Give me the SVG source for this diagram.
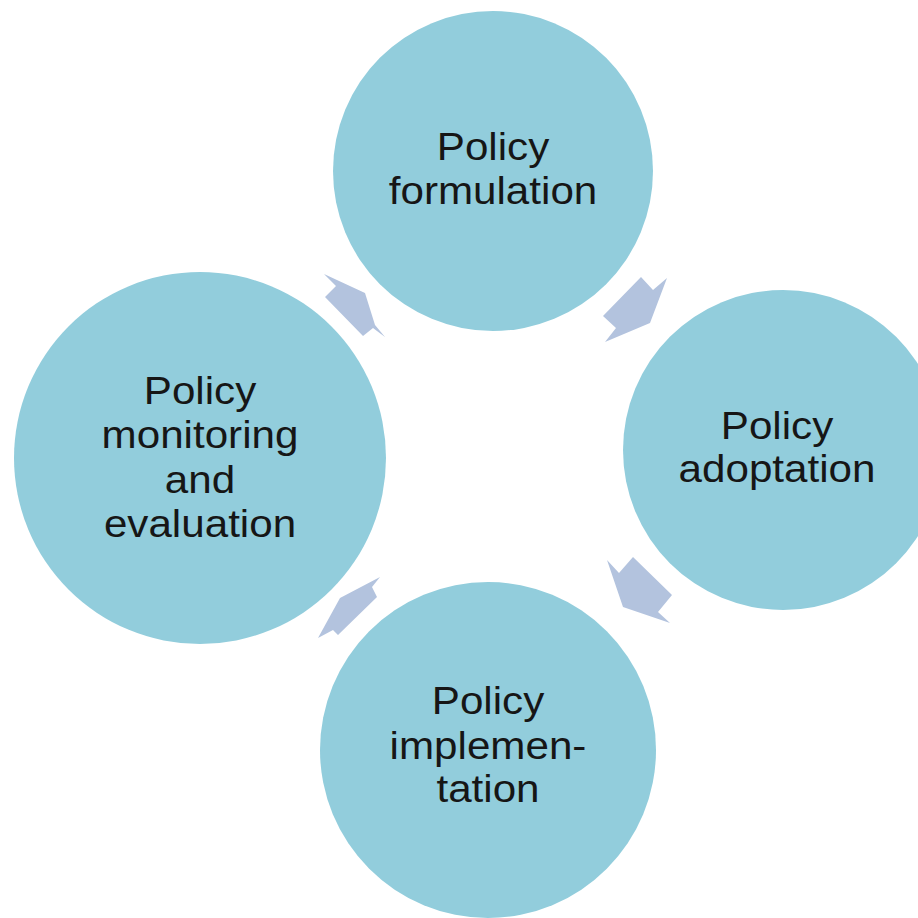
<svg xmlns="http://www.w3.org/2000/svg" width="918" height="918" viewBox="0 0 918 918">
<style>
.c{fill:#92CDDC}
.a{fill:#B3C3DE}
.t{font-family:"Liberation Sans",Arial,sans-serif;font-size:38px;fill:#161616;text-anchor:middle}
</style>
<rect width="918" height="918" fill="#fff"/>
<g id="connectors">
<polygon class="a" points="324,274 365,293 375,325 385,337 373,328 363,336 325,297 336,286"/>
<polygon class="a" points="641,277 653,290 667,278 650,323 605,342 616,328 603,316"/>
<polygon class="a" points="607,560 619,573 633,557 672,595 658,612 670,623 623,607"/>
<polygon class="a" points="380,577 372,587 377,597 338,635 333,630 318,638 340,598"/>
</g>
<g id="formulation">
<circle class="c" cx="493" cy="171" r="160"/>
<g transform="translate(493,0) scale(1.11,1)">
<text class="t" x="0" y="160">Policy</text>
<text class="t" x="0" y="204">formulation</text>
</g>
</g>
<g id="adoptation">
<circle class="c" cx="783" cy="450" r="160"/>
<g transform="translate(777,0) scale(1.11,1)">
<text class="t" x="0" y="439">Policy</text>
<text class="t" x="0" y="482">adoptation</text>
</g>
</g>
<g id="implementation">
<circle class="c" cx="488" cy="750" r="168"/>
<g transform="translate(488,0) scale(1.11,1)">
<text class="t" x="0" y="714">Policy</text>
<text class="t" x="0" y="759">implemen-</text>
<text class="t" x="0" y="802">tation</text>
</g>
</g>
<g id="monitoring">
<circle class="c" cx="200" cy="458" r="186"/>
<g transform="translate(200,0) scale(1.11,1)">
<text class="t" x="0" y="404">Policy</text>
<text class="t" x="0" y="448">monitoring</text>
<text class="t" x="0" y="493">and</text>
<text class="t" x="0" y="537">evaluation</text>
</g>
</g>
</svg>
